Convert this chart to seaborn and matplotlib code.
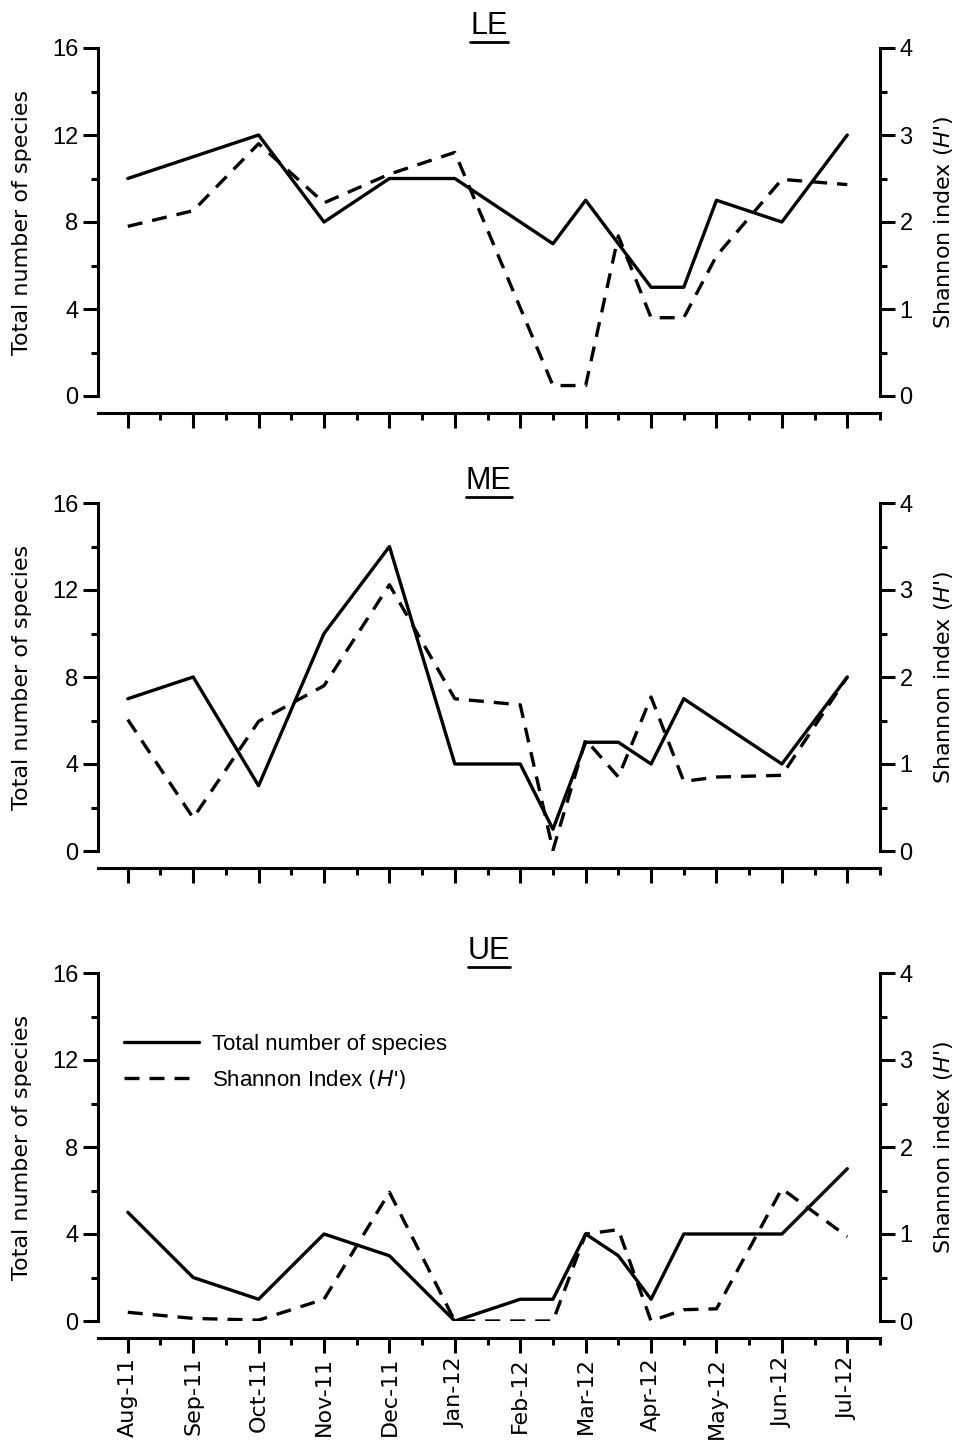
import pandas as pd
import matplotlib
matplotlib.use("Agg")
import matplotlib.pyplot as plt
from matplotlib.ticker import MultipleLocator, FixedLocator
from matplotlib.lines import Line2D
import seaborn as sns

months = ["Aug-11", "Sep-11", "Oct-11", "Nov-11", "Dec-11", "Jan-12",
          "Feb-12", "Mar-12", "Apr-12", "May-12", "Jun-12", "Jul-12"]

# sampling position in months from Aug-11 (half = mid-month sample)
lePos = [0, 1, 2, 3, 4, 5, 6.5, 7, 7.5, 8, 8.5, 9, 10, 11]
leSpecies = [10, 11, 12, 8, 10, 10, 7, 9, 7, 5, 5, 9, 8, 12]
leShannon = [1.95, 2.13, 2.9, 2.22, 2.55, 2.8, 0.12, 0.12, 1.84, 0.9, 0.9, 1.61, 2.49, 2.43]

mePos = [0, 1, 2, 3, 4, 5, 6, 6.5, 7, 7.5, 8, 8.5, 9, 10, 11]
meSpecies = [7, 8, 3, 10, 14, 4, 4, 1, 5, 5, 4, 7, 6, 4, 8]
meShannon = [1.51, 0.38, 1.49, 1.9, 3.06, 1.75, 1.68, 0.01, 1.28, 0.85, 1.77, 0.8, 0.85, 0.87, 2.0]

uePos = [0, 1, 2, 3, 4, 5, 6, 6.5, 7, 7.5, 8, 8.5, 9, 10, 11]
ueSpecies = [5, 2, 1, 4, 3, 0, 1, 1, 4, 3, 1, 4, 4, 4, 7]
ueShannon = [0.1, 0.03, 0.01, 0.25, 1.48, 0.0, 0.0, 0.0, 1.0, 1.05, 0.0, 0.13, 0.14, 1.52, 0.97]

sites = ["LE", "ME", "UE"]
panels = [
  (lePos, leSpecies, leShannon),
  (mePos, meSpecies, meShannon),
  (uePos, ueSpecies, ueShannon),
]

sns.set_style("ticks")
plt.rcParams["font.family"] = ["DejaVu Sans"]
plt.rcParams["mathtext.fontset"] = "custom"
plt.rcParams["mathtext.it"] = "DejaVu Sans:italic"
for k in ["text.color", "axes.labelcolor", "xtick.color", "ytick.color", "axes.edgecolor"]:
  plt.rcParams[k] = "black"

tickFont = "Liberation Sans"
lw = 2.4
dashStyle = (0, (4.5, 3))

W, H = 956, 1443
fig = plt.figure(figsize=(W / 100, H / 100), dpi=100)
tops = [48, 503, 973]
axH = 348
titles = []

for i, (site, (pos, species, shannon)) in enumerate(zip(sites, panels)):
  top = tops[i]
  ax = fig.add_axes([97.7 / W, 1 - (top + axH) / H, (880 - 97.7) / W, axH / H])
  df = pd.DataFrame({"pos": pos, "species": species, "shannon": shannon})
  sns.lineplot(data=df, x="pos", y="species", ax=ax, color="black", lw=lw)
  ax2 = ax.twinx()
  sns.lineplot(data=df, x="pos", y="shannon", ax=ax2, color="black", lw=lw,
               linestyle=dashStyle)

  ax.set_xlim(-0.46, 11.5)
  ax.set_ylim(0, 16)
  ax2.set_ylim(0, 4)
  ax.xaxis.set_major_locator(FixedLocator(range(12)))
  ax.xaxis.set_minor_locator(MultipleLocator(0.5))
  ax.yaxis.set_major_locator(MultipleLocator(4))
  ax.yaxis.set_minor_locator(MultipleLocator(2))
  ax2.yaxis.set_major_locator(MultipleLocator(1))
  ax2.yaxis.set_minor_locator(MultipleLocator(0.5))

  for s in ["top", "right"]:
    ax.spines[s].set_visible(False)
  for s in ["top", "left", "bottom"]:
    ax2.spines[s].set_visible(False)
  ax.spines["bottom"].set_position(("outward", 12))
  for s in ["left", "bottom"]:
    ax.spines[s].set_linewidth(2.2)
  ax2.spines["right"].set_linewidth(2.2)

  for a in (ax, ax2):
    a.tick_params(which="major", length=11, width=2.2, direction="out",
                  labelsize=17, labelfontfamily=tickFont, pad=3)
    a.tick_params(which="minor", length=5, width=2.2, direction="out")

  ax.set_xlabel("")
  ax.set_ylabel("Total number of species", fontsize=16, labelpad=14)
  ax2.set_ylabel("Shannon index $\\mathit{(H}$'$\\mathit{)}$", fontsize=16,
                 labelpad=14)
  t = ax.set_title(site, fontsize=22, family=tickFont, pad=10)
  titles.append(t)

  if i == 2:
    ax.set_xticklabels(months, rotation=90)
    ax.tick_params(axis="x", labelfontfamily="DejaVu Sans", labelsize=16)
    handles = [
      Line2D([], [], color="black", lw=lw),
      Line2D([], [], color="black", lw=lw, linestyle=dashStyle),
    ]
    ax.legend(handles, ["Total number of species",
                        "Shannon Index $\\mathit{(H}$'$\\mathit{)}$"],
              loc="upper left", bbox_to_anchor=(0.033, 0.825), frameon=False,
              prop={"family": tickFont, "size": 16}, handlelength=3.4,
              handletextpad=0.6, labelspacing=0.6, borderpad=0, borderaxespad=0)
  else:
    ax.set_xticklabels([])

# underline the site titles
fig.canvas.draw()
inv = fig.transFigure.inverted()
for t in titles:
  bb = t.get_window_extent()
  (x0, y0), (x1, y1) = inv.transform([[bb.x0, bb.y0], [bb.x1, bb.y1]])
  yu = y0 - 1.0 / H
  fig.add_artist(Line2D([x0, x1], [yu, yu], color="black", lw=2,
                        transform=fig.transFigure))

fig.savefig("out.png", dpi=100)
